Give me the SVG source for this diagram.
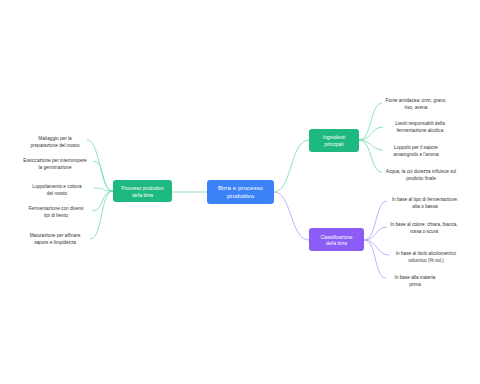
<svg xmlns="http://www.w3.org/2000/svg" width="480" height="384" viewBox="0 0 480 384">
<style>
.bg{fill:#ffffff}
.lf{font-family:"Liberation Sans",Arial,sans-serif;font-size:4.7px;fill:#333333;text-anchor:middle}
.nt{font-family:"Liberation Sans",Arial,sans-serif;font-size:4.8px;fill:#ffffff;text-anchor:middle}
.ct{font-family:"Liberation Sans",Arial,sans-serif;font-size:6.2px;fill:#ffffff;text-anchor:middle}
.cg{fill:none;stroke:#6fdcb3;stroke-width:0.8}
.cp{fill:none;stroke:#b3a0f5;stroke-width:0.8}
</style>
<rect class="bg" x="0" y="0" width="480" height="384"/>
<g id="connectors">
<path class="cg" d="M172 192 L207 192"/>
<path class="cg" d="M274 192 C292 192 290 140 309 140"/>
<path class="cp" d="M274 192 C292 192 290 240 309 240"/>
<path class="cg" d="M359 140 C372 140 370 103 382 103"/>
<path class="cg" d="M359 140 C372 140 371 127 383 127"/>
<path class="cg" d="M359 140 C372 140 371 150 383 150"/>
<path class="cg" d="M359 140 C372 140 370 172 382 172"/>
<path class="cp" d="M364 240 C377 240 375 201 387 201"/>
<path class="cp" d="M364 240 C377 240 375 227 387 227"/>
<path class="cp" d="M364 240 C377 240 377 255 389 255"/>
<path class="cp" d="M364 240 C377 240 374 278 386 278"/>
<path class="cg" d="M113 191 C100 191 100 140 87 140"/>
<path class="cg" d="M113 191 C100 191 106 161 93 161"/>
<path class="cg" d="M113 191 C100 191 107 188 94 188"/>
<path class="cg" d="M113 191 C100 191 105 211 92 211"/>
<path class="cg" d="M113 191 C100 191 103 239 90 239"/>
</g>
<g id="center">
<rect x="207" y="180" width="67" height="24" rx="3" fill="#3b82f6"/>
<text class="ct" x="240.5" y="189.5">Birra e processo</text>
<text class="ct" x="240.5" y="197.5">produttivo</text>
</g>
<g id="ingredienti">
<rect x="309" y="129" width="50" height="23" rx="3" fill="#1eb980"/>
<text class="nt" x="334" y="139">Ingredienti</text>
<text class="nt" x="334" y="145.5">principali</text>
</g>
<g id="classificazione">
<rect x="309" y="228" width="55" height="23" rx="3" fill="#8b5cf6"/>
<text class="nt" x="336.5" y="238.5">Classificazione</text>
<text class="nt" x="336.5" y="245">della birra</text>
</g>
<g id="processo">
<rect x="113" y="180" width="59" height="22" rx="3" fill="#1eb980"/>
<text class="nt" x="142.5" y="190">Processo produttivo</text>
<text class="nt" x="142.5" y="196.5">della birra</text>
</g>
<g id="ing1"><text class="lf" x="416" y="101.5">Fonte amidacea: orzo, grano,</text><text class="lf" x="416" y="108.5">riso, avena</text></g>
<g id="ing2"><text class="lf" x="420" y="124.5">Lieviti responsabili della</text><text class="lf" x="420" y="131.5">fermentazione alcolica</text></g>
<g id="ing3"><text class="lf" x="416" y="148.5">Luppolo per il sapore</text><text class="lf" x="416" y="155.5">amarognolo e l'aroma</text></g>
<g id="ing4"><text class="lf" x="421" y="172.5">Acqua, la cui durezza influisce sul</text><text class="lf" x="421" y="179.5">prodotto finale</text></g>
<g id="cla1"><text class="lf" x="425" y="200.5">In base al tipo di fermentazione:</text><text class="lf" x="425" y="207.5">alta o bassa</text></g>
<g id="cla2"><text class="lf" x="424" y="225.5">In base al colore: chiara, bianca,</text><text class="lf" x="424" y="232.5">rossa o scura</text></g>
<g id="cla3"><text class="lf" x="426" y="254.5">In base al titolo alcolometrico</text><text class="lf" x="426" y="261.5">volumico (% vol.)</text></g>
<g id="cla4"><text class="lf" x="415" y="278.5">In base alla materia</text><text class="lf" x="415" y="285.5">prima</text></g>
<g id="pro1"><text class="lf" x="55" y="139.5">Maltaggio per la</text><text class="lf" x="55" y="146.5">preparazione del mosto</text></g>
<g id="pro2"><text class="lf" x="55" y="161.5">Essiccazione per interrompere</text><text class="lf" x="55" y="168.5">la germinazione</text></g>
<g id="pro3"><text class="lf" x="57" y="187.5">Luppolamento e cottura</text><text class="lf" x="57" y="194.5">del mosto</text></g>
<g id="pro4"><text class="lf" x="56" y="209.5">Fermentazione con diversi</text><text class="lf" x="56" y="216.5">tipi di lievito</text></g>
<g id="pro5"><text class="lf" x="55" y="236.5">Maturazione per affinare</text><text class="lf" x="55" y="243.5">sapore e limpidezza</text></g>
</svg>
